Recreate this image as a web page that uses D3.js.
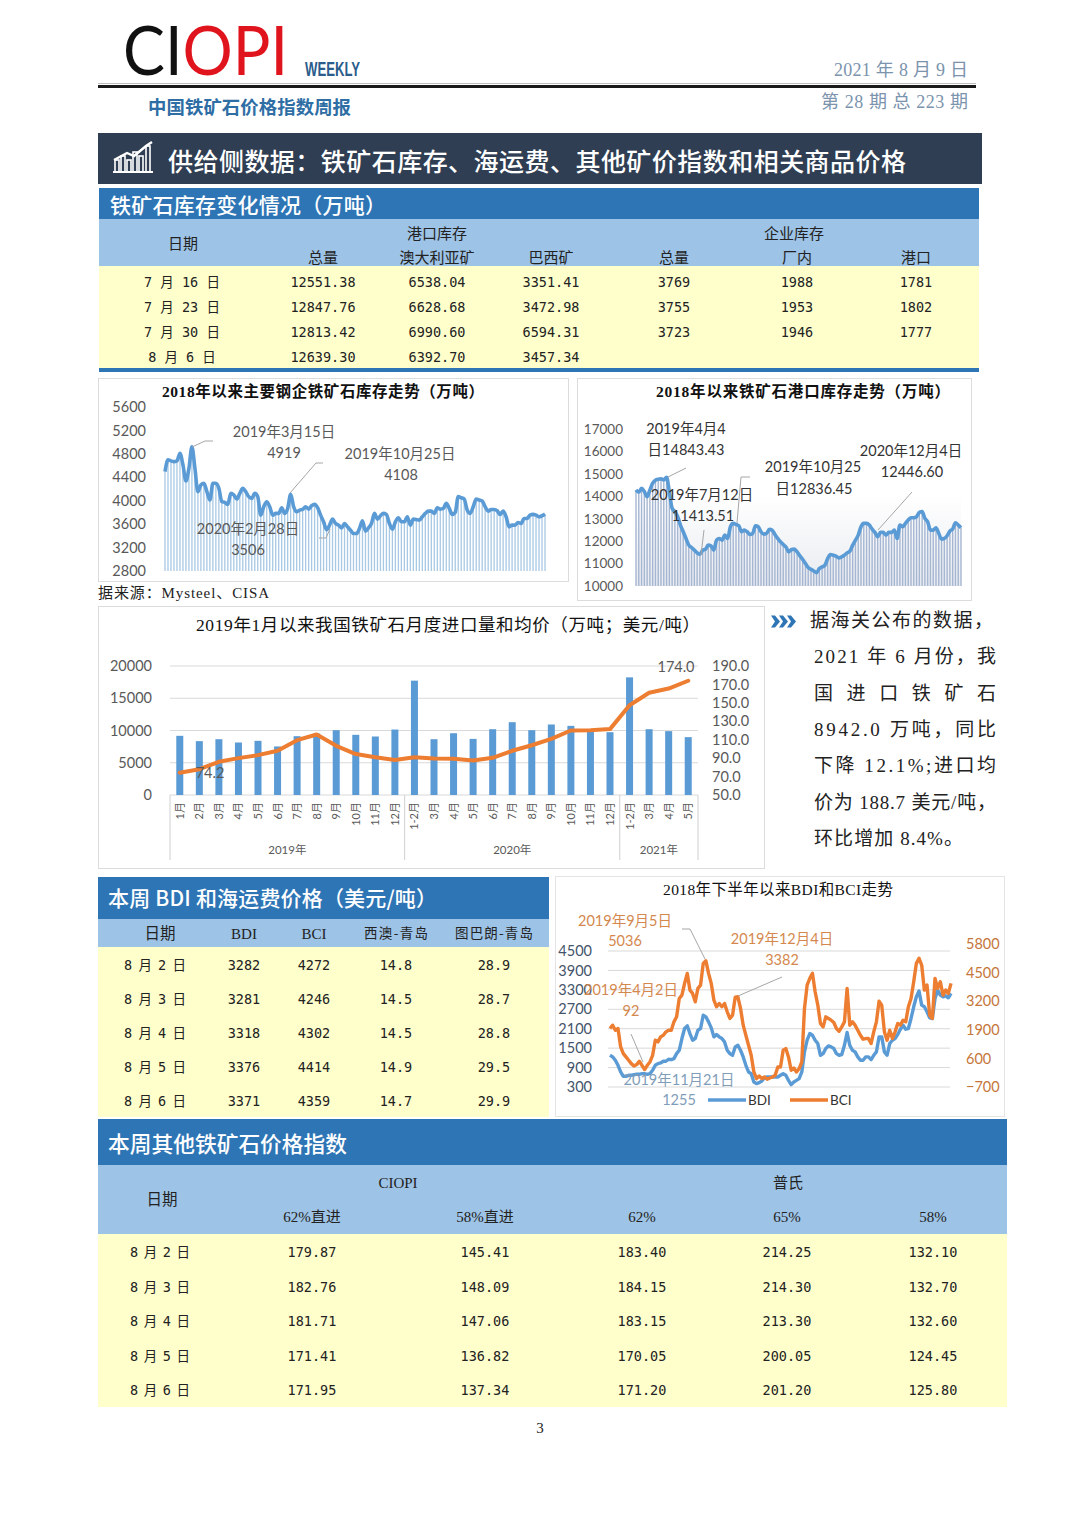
<!DOCTYPE html>
<html><head><meta charset="utf-8">
<style>html,body{margin:0;padding:0;background:#fff}svg{display:block}</style>
<script src="https://cdn.jsdelivr.net/npm/d3@7/dist/d3.min.js"></script>
</head><body><svg id="page" width="1080" height="1526"></svg>
<script>
// ---------- data ----------
const steelStock=[4497,4697,4680,4668,4680,4811,4611,4337,4554,4919,4554,4154,4268,4297,4154,4011,4297,4297,4211,3983,3971,3937,4126,4097,4029,4126,4211,4154,4069,4040,4126,4069,3754,3897,3983,3897,3754,3783,3783,3880,3783,3868,4108,3897,3811,3840,3851,3897,3857,3914,3937,3880,3754,3640,3506,3583,3686,3611,3583,3537,3611,3554,3497,3440,3440,3526,3657,3480,3537,3611,3783,3686,3743,3783,3766,3611,3514,3640,3709,3640,3640,3726,3583,3686,3680,3669,3726,3783,3823,3823,3783,3880,3857,3868,3954,3868,3766,3800,4069,4051,4029,3840,3783,3897,4029,4011,3994,3897,3823,3851,3851,3829,3766,3823,3726,3554,3583,3583,3629,3611,3697,3697,3754,3766,3754,3726,3743,3771];
const portStock=[14285,14180,14360,14210,13986,14285,14584,14718,14763,14778,14733,14843,14210,13464,13314,13090,12717,12419,12120,11821,11717,11598,11478,11413,11598,11642,11821,11792,11598,12045,12120,12045,12269,12120,12643,12792,12747,12687,12419,12493,12419,12299,12344,12687,12643,12419,12314,12344,12523,12493,12299,12120,11971,11851,11732,11523,11627,11642,11523,11344,11179,11000,10821,10746,10672,10597,10776,10851,10926,11224,11403,11374,11329,11254,11299,11374,11478,11553,11821,12045,12269,12643,12792,12792,12717,12538,12389,12195,12389,12389,12269,12389,12389,12493,12120,12717,12643,12792,12941,13045,13045,13090,13285,13314,13016,12867,12493,12493,12598,12344,12090,12120,12239,12449,12538,12822,12717,12598];
const importMonths=["1月","2月","3月","4月","5月","6月","7月","8月","9月","10月","11月","12月","1-2月","3月","4月","5月","6月","7月","8月","9月","10月","11月","12月","1-2月","3月","4月","5月"];
const importYears=["2019年","2020年","2021年"];
const importYearCounts=[12,11,4];
const importVolume=[9175,8350,8650,8140,8400,7525,9120,9530,10050,9330,9070,10150,17730,8650,9580,8700,10200,11290,10050,10930,10720,9800,9740,18240,10200,9900,8970];
const importPrice=[74.2,78,86,90,93.3,98,109.5,115.7,103.4,94.4,91,88,91,89.7,89.3,87.5,90.4,98,104,111,120,120.4,121.5,147.4,161,165.5,174];
const bdiSeries=[1280,1229,1126,971,764,630,630,661,661,682,692,692,713,713,692,713,816,971,1022,1043,1095,1095,1157,1146,1177,1332,1435,1796,2106,2189,1951,1745,1796,2054,2106,2519,2467,2312,2127,1848,1920,1848,1796,1693,1435,1332,1280,1538,1590,1435,1229,971,764,713,455,403,434,486,589,610,610,610,610,610,661,713,661,506,372,455,506,558,764,1384,1745,1951,1900,1745,1642,1280,1332,1487,1569,1538,1487,1332,1280,1301,1590,1982,1590,1435,1384,1229,1126,1126,1229,1229,1146,1280,1384,1848,1848,1384,1280,1642,1745,1796,1920,2085,2209,2085,2106,2416,2777,3086,3262,2828,2777,2622,2436,2416,3035,3293,3138,3086,3117,3055,3190];
const bciSeries=[1958,2110,1882,1958,1123,819,667,515,363,257,318,470,287,92,287,439,743,1427,1351,1579,1654,1806,1882,1882,2262,2490,3325,3477,4009,4465,3705,3553,3173,3781,3933,4920,5036,4465,4009,3249,2946,3098,2946,3098,2718,2414,2566,3382,3401,2870,2110,1654,1199,743,-16,-320,-199,-320,-244,-351,-290,-244,-168,211,211,971,1047,667,60,166,-16,135,439,2870,3933,4237,4465,3629,3022,2186,2034,2490,2414,2338,2232,1958,1837,2034,2262,3781,2110,2262,2110,1882,1654,1472,1503,1503,1275,1806,2262,3204,3022,1806,1427,1882,1503,1806,2186,2110,2338,2262,2946,3325,4085,4920,5148,4844,3705,3933,2566,2414,4237,3781,4085,3477,3705,3553,4009];
const steelTicks=[2800,3200,3600,4000,4400,4800,5200,5600];
const portTicks=[10000,11000,12000,13000,14000,15000,16000,17000];
const volumeTicks=[0,5000,10000,15000,20000];
const priceTicks=[50,70,90,110,130,150,170,190];
const bdiTicks=[300,900,1500,2100,2700,3300,3900,4500];
const bciTicks=[-700,600,1900,3200,4500,5800];
const stockDates=["7 月 16 日","7 月 23 日","7 月 30 日","8 月 6 日"];
const stockRows=[["12551.38","6538.04","3351.41","3769","1988","1781"],["12847.76","6628.68","3472.98","3755","1953","1802"],["12813.42","6990.60","6594.31","3723","1946","1777"],["12639.30","6392.70","3457.34","","",""]];
const freightDates=["8 月 2 日","8 月 3 日","8 月 4 日","8 月 5 日","8 月 6 日"];
const freightRows=[["3282","4272","14.8","28.9"],["3281","4246","14.5","28.7"],["3318","4302","14.5","28.8"],["3376","4414","14.9","29.5"],["3371","4359","14.7","29.9"]];
const indexRows=[["179.87","145.41","183.40","214.25","132.10"],["182.76","148.09","184.15","214.30","132.70"],["181.71","147.06","183.15","213.30","132.60"],["171.41","136.82","170.05","200.05","124.45"],["171.95","137.34","171.20","201.20","125.80"]];
const commentary=["据海关公布的数据\uFF0C","2021 年 6 月份\uFF0C我","国 进 口 铁 矿 石","8942.0 万吨\uFF0C同比","下降 12.1%;进口均","价为 188.7 美元/吨\uFF0C","环比增加 8.4%。"];

// ---------- helpers ----------
const svg=d3.select("#page");
const SANS='"Noto Sans CJK SC","Noto Sans",sans-serif';
const LAT='Lato,"Noto Sans CJK SC",sans-serif';
const SER='"Liberation Serif","Noto Sans CJK SC",serif';
const MONO='"DejaVu Sans Mono","Noto Sans CJK SC",monospace';
const BAND="#2e75b6",HEAD="#9dc3e6",YEL="#ffffcc";
function rect(x,y,w,h,fill,stroke){return svg.append("rect").attr("x",x).attr("y",y).attr("width",w).attr("height",h).attr("fill",fill).attr("stroke",stroke||"none");}
function txt(s,x,y,o={}){const t=svg.append("text").attr("x",x).attr("y",y).attr("text-anchor",o.a||"middle").attr("font-family",o.f||SANS).attr("font-size",o.s||14).attr("font-weight",o.w||400).attr("fill",o.c||"#222").text(s);if(o.tl)t.attr("textLength",o.tl).attr("lengthAdjust",o.la||"spacing");return t;}
function leader(pts){svg.append("path").attr("d",d3.line()(pts)).attr("fill","none").attr("stroke","#a6a6a6").attr("stroke-width",1);}
function styleAxis(g,size,color,family){g.select(".domain").remove();g.selectAll(".tick line").remove();g.selectAll("text").attr("font-size",size).attr("fill",color).attr("font-family",family||LAT);}

// ---------- masthead ----------
const logo=svg.append("text").attr("x",123).attr("y",75).attr("font-family",'Lato,"Open Sans",sans-serif').attr("font-weight",400).attr("font-size",68).attr("textLength",165).attr("lengthAdjust","spacingAndGlyphs");
logo.append("tspan").attr("fill","#111").text("CI");
logo.append("tspan").attr("fill","#e0141c").text("OPI");
txt("WEEKLY",305,76,{a:"start",f:'"Liberation Sans",sans-serif',w:700,s:20,c:"#2b5c8c",tl:55,la:"spacingAndGlyphs"});
txt("2021 年 8 月 9 日",968,76,{a:"end",f:SER,s:18,c:"#7b93ad",tl:134});
rect(98,83,878,1,"#bdbdbd");
rect(98,85,878,3,"#1a1a1a");
txt("中国铁矿石价格指数周报",148,114,{a:"start",w:700,s:18.4,c:"#2f6ea5",tl:203});
txt("第 28 期 总 223 期",968,108,{a:"end",f:SER,s:18,c:"#7b93ad",tl:147});

// ---------- main heading ----------
rect(98,133,884,51,"#2f3e53");
txt("供给侧数据\uFF1A铁矿石库存、海运费、其他矿价指数和相关商品价格",168,171,{a:"start",w:500,s:25,c:"#fff",tl:738});
[[115,160,12],[121,156,16],[127,160,12],[133,152,20],[139,156,16],[146,146,26]].forEach(b=>rect(b[0],b[1],4,b[2],"none","#fff").attr("stroke-width",1.6));
svg.append("path").attr("d",d3.line()([[114,160],[127,153],[134,156],[146,146],[152,142]])).attr("fill","none").attr("stroke","#fff").attr("stroke-width",2.4);
rect(113,171,40,2,"#fff");

// ---------- stock table ----------
rect(99,188,880,31,BAND);
txt("铁矿石库存变化情况\uFF08万吨\uFF09",110,213,{a:"start",s:21,w:500,c:"#fff",tl:276});
rect(99,219,880,47,HEAD);
rect(99,266,880,102,YEL);
rect(99,368,880,4,BAND);
const stockX=[323,437,551,674,797,916];
txt("日期",183,249,{s:15,c:"#222"});
txt("港口库存",437,239,{s:15});txt("企业库存",794,239,{s:15});
["总量","澳大利亚矿","巴西矿","总量","厂内","港口"].forEach((h,i)=>txt(h,stockX[i],263,{s:15}));
stockRows.forEach((r,i)=>{const y=287+i*25;txt(stockDates[i],182,y,{f:MONO,s:13.5});r.forEach((v,j)=>{if(v)txt(v,stockX[j],y,{f:MONO,s:13.5});});});

// ---------- chart 1: steel mill stock ----------
rect(98.5,378.5,470,203,"#fff","#dcdcdc");
txt("2018年以来主要钢企铁矿石库存走势\uFF08万吨\uFF09",323,397,{f:SER,w:700,s:15.5,c:"#111",tl:322});
const y1=d3.scaleLinear().domain([2800,5600]).range([571,407]);
const x1=d3.scalePoint().domain(d3.range(steelStock.length)).range([165,545]);
svg.append("g").selectAll("line").data(steelStock).join("line").attr("x1",(d,i)=>x1(i)).attr("x2",(d,i)=>x1(i)).attr("y1",y1(2800)).attr("y2",d=>y1(d)).attr("stroke","#a8c8e4").attr("stroke-width",1.3);
svg.append("path").datum(steelStock).attr("d",d3.line().x((d,i)=>x1(i)).y(d=>y1(d)).curve(d3.curveMonotoneX)).attr("fill","none").attr("stroke","#5b9bd5").attr("stroke-width",3.6).attr("stroke-linejoin","round");
styleAxis(svg.append("g").attr("transform","translate(149,0)").call(d3.axisLeft(y1).tickValues(steelTicks).tickFormat(d3.format("d")).tickSize(0)),14.5,"#595959");
leader([[192,447],[205,441],[213,441]]);leader([[290,493],[316,463],[323,463]]);leader([[330,529],[326,538],[319,538]]);
const an={f:LAT,s:14.5,c:"#595959"};
txt("2019年3月15日",284,437,an);txt("4919",284,458,an);
txt("2019年10月25日",400,459,an);txt("4108",401,480,an);
txt("2020年2月28日",248,534,an);txt("3506",248,555,an);
txt("据来源\uFF1AMysteel、CISA",98,598,{a:"start",f:SER,s:15,c:"#222",tl:171});

// ---------- chart 2: port stock ----------
rect(577.5,378.5,394,222,"#fff","#dcdcdc");
txt("2018年以来铁矿石港口库存走势\uFF08万吨\uFF09",803,397,{f:SER,w:700,s:15.5,c:"#111",tl:294});
const y2=d3.scaleLinear().domain([10000,17000]).range([586,429]);
const x2=d3.scalePoint().domain(d3.range(portStock.length)).range([636,961]);
const fade=svg.append("defs").append("linearGradient").attr("id","fade").attr("x1",0).attr("y1",0).attr("x2",0).attr("y2",1);
fade.append("stop").attr("offset",0).attr("stop-color","#fff");fade.append("stop").attr("offset",1).attr("stop-color","#e8ebf0");
rect(636,495,325,91,"url(#fade)");
svg.append("g").selectAll("line").data(portStock).join("line").attr("x1",(d,i)=>x2(i)).attr("x2",(d,i)=>x2(i)).attr("y1",y2(10000)).attr("y2",d=>y2(d)).attr("stroke","#a5b6d2").attr("stroke-width",1.4);
svg.append("path").datum(portStock).attr("d",d3.line().x((d,i)=>x2(i)).y(d=>y2(d)).curve(d3.curveMonotoneX)).attr("fill","none").attr("stroke","#5b9bd5").attr("stroke-width",3.6).attr("stroke-linejoin","round");
styleAxis(svg.append("g").attr("transform","translate(626,0)").call(d3.axisLeft(y2).tickValues(portTicks).tickFormat(d3.format("d")).tickSize(0)),13.5,"#595959");
leader([[668,477],[686,468]]);leader([[701,555],[704,530]]);leader([[737,523],[741,477],[750,477]]);leader([[878,530],[912,492]]);
const an2={f:LAT,s:14.5,c:"#333"};
txt("2019年4月4",686,434,an2);txt("日14843.43",686,455,an2);
txt("2019年7月12日",702,500,an2);txt("11413.51",703,521,an2);
txt("2019年10月25",813,472,an2);txt("日12836.45",814,494,an2);
txt("2020年12月4日",911,456,an2);txt("12446.60",912,477,an2);

// ---------- chart 3: imports ----------
rect(98.5,606.5,666,262,"#fff","#dcdcdc");
txt("2019年1月以来我国铁矿石月度进口量和均价\uFF08万吨\uFF1B美元/吨\uFF09",448,631,{f:SER,s:17.5,c:"#111",tl:504});
const y3=d3.scaleLinear().domain([0,20000]).range([795,666]);
const y3r=d3.scaleLinear().domain([50,190]).range([795,666]);
const x3=d3.scaleBand().domain(d3.range(importMonths.length)).range([170,698]);
svg.append("g").selectAll("line").data(volumeTicks).join("line").attr("x1",170).attr("x2",698).attr("y1",d=>y3(d)).attr("y2",d=>y3(d)).attr("stroke","#d9d9d9");
svg.append("g").selectAll("rect").data(importVolume).join("rect").attr("x",(d,i)=>x3(i)+x3.bandwidth()/2-3.5).attr("width",7).attr("y",d=>y3(d)).attr("height",d=>y3(0)-y3(d)).attr("fill","#5b9bd5");
svg.append("path").datum(importPrice).attr("d",d3.line().x((d,i)=>x3(i)+x3.bandwidth()/2).y(d=>y3r(d))).attr("fill","none").attr("stroke","#ed7d31").attr("stroke-width",4).attr("stroke-linejoin","round").attr("stroke-linecap","round");
styleAxis(svg.append("g").attr("transform","translate(155,0)").call(d3.axisLeft(y3).tickValues(volumeTicks).tickFormat(d3.format("d")).tickSize(0)),14.5,"#595959");
styleAxis(svg.append("g").attr("transform","translate(709,0)").call(d3.axisRight(y3r).tickValues(priceTicks).tickFormat(d3.format(".1f")).tickSize(0)),14.5,"#595959");
importMonths.forEach((m,i)=>{const cx=x3(i)+x3.bandwidth()/2;svg.append("text").attr("transform",`translate(${cx+4},802) rotate(-90)`).attr("text-anchor","end").attr("font-family",LAT).attr("font-size",11).attr("fill","#595959").text(m);});
let cum=0;[0].concat(importYearCounts).forEach(n=>{cum+=n;const px=cum===importMonths.length?x3.range()[1]:x3.range()[0]+x3.step()*cum;svg.append("line").attr("x1",px).attr("x2",px).attr("y1",795).attr("y2",860).attr("stroke","#d0d0d0");});
cum=0;importYears.forEach((y,i)=>{const mid=x3.range()[0]+x3.step()*(cum+importYearCounts[i]/2);cum+=importYearCounts[i];txt(y,mid,854,{f:LAT,s:11.5,c:"#595959"});});
txt("74.2",210,778,{f:LAT,s:14.5,c:"#595959"});
txt("174.0",676,672,{f:LAT,s:14.5,c:"#595959"});

// ---------- commentary ----------
[771,779,787].forEach(x=>svg.append("path").attr("d",d3.line()([[x,615.5],[x+4,615.5],[x+9,621.5],[x+4,627.5],[x,627.5],[x+4,621.5]])+"Z").attr("fill",BAND));
commentary.forEach((l,i)=>{const x=i===0?810:814,w=i===0?183:(i===6?149:182);txt(l,x,627+i*36.3,{a:"start",f:SER,s:19,c:"#222",tl:w});});

// ---------- freight table ----------
rect(98,877,451,42,BAND);
txt("本周 BDI 和海运费价格\uFF08美元/吨\uFF09",108,906,{a:"start",s:21,w:500,c:"#fff",tl:329});
rect(98,919,451,28,HEAD);
rect(98,947,451,170,YEL);
const frX=[244,314,396,494];
txt("日期",160,939,{s:15.5});
txt("BDI",frX[0],939,{f:SER,s:15});txt("BCI",frX[1],939,{f:SER,s:15});
txt("西澳-青岛",frX[2],938,{s:13.5,tl:64});txt("图巴朗-青岛",frX[3],938,{s:13.5,tl:78});
freightRows.forEach((r,i)=>{const y=970+i*34;txt(freightDates[i],155,y,{f:MONO,s:13.5,tl:62});r.forEach((v,j)=>txt(v,frX[j],y,{f:MONO,s:13.5}));});

// ---------- chart 4: BDI / BCI ----------
rect(555.5,876.5,449,240,"#fff","#e4e4e4");
txt("2018年下半年以来BDI和BCI走势",778,895,{f:SER,s:15.5,c:"#111",tl:230});
const y4=d3.scaleLinear().domain([300,4500]).range([1087,951]);
const y4r=d3.scaleLinear().domain([-700,5800]).range([1087,944]);
const x4=d3.scalePoint().domain(d3.range(bdiSeries.length)).range([610,951]);
svg.append("g").selectAll("line").data(bdiTicks).join("line").attr("x1",608).attr("x2",950).attr("y1",d=>y4(d)).attr("y2",d=>y4(d)).attr("stroke","#d9d9d9");
const lineB=(s,yy)=>d3.line().x((d,i)=>x4(i)).y(d=>yy(d))(s);
svg.append("path").attr("d",lineB(bdiSeries,y4)).attr("fill","none").attr("stroke","#5b9bd5").attr("stroke-width",3.4).attr("stroke-linejoin","round");
svg.append("path").attr("d",lineB(bciSeries,y4r)).attr("fill","none").attr("stroke","#ed7d31").attr("stroke-width",3.4).attr("stroke-linejoin","round");
styleAxis(svg.append("g").attr("transform","translate(595,0)").call(d3.axisLeft(y4).tickValues(bdiTicks).tickFormat(d3.format("d")).tickSize(0)),14.5,"#44546a");
styleAxis(svg.append("g").attr("transform","translate(963,0)").call(d3.axisRight(y4r).tickValues(bciTicks).tickFormat(d3.format("d")).tickSize(0)),14.5,"#c5763a");
leader([[682,929],[690,929],[705,959]]);leader([[738,996],[782,977]]);leader([[631,1034],[643,1062]]);
const an4={f:LAT,s:14.5,c:"#d4884e"};
txt("2019年9月5日",625,926,an4);txt("5036",625,946,an4);
txt("2019年12月4日",782,944,an4);txt("3382",782,965,an4);
txt("2019年4月2日",631,995,an4);txt("92",631,1016,an4);
const an4b={f:LAT,s:14.5,c:"#7f9db9"};
txt("2019年11月21日",679,1085,an4b);txt("1255",679,1105,an4b);
svg.append("line").attr("x1",708).attr("x2",746).attr("y1",1100).attr("y2",1100).attr("stroke","#5b9bd5").attr("stroke-width",3.4);
txt("BDI",748,1105,{a:"start",f:LAT,s:13.5,c:"#333"});
svg.append("line").attr("x1",790).attr("x2",828).attr("y1",1100).attr("y2",1100).attr("stroke","#ed7d31").attr("stroke-width",3.4);
txt("BCI",830,1105,{a:"start",f:LAT,s:13.5,c:"#333"});

// ---------- index table ----------
rect(98,1119,909,46,BAND);
txt("本周其他铁矿石价格指数",108,1152,{a:"start",s:21.7,w:500,c:"#fff",tl:239});
rect(98,1165,909,69,HEAD);
rect(98,1234,909,173,YEL);
const idxX=[312,485,642,787,933];
txt("CIOPI",398,1188,{f:SER,s:15});txt("普氏",788,1188,{s:15});
txt("日期",162,1205,{s:15.5});
["62%直进","58%直进","62%","65%","58%"].forEach((h,i)=>txt(h,idxX[i],1222,{f:SER,s:15}));
indexRows.forEach((r,i)=>{const y=1257+i*34.5;txt(freightDates[i],160,y,{f:MONO,s:13.5,tl:60});r.forEach((v,j)=>txt(v,idxX[j],y,{f:MONO,s:13.5}));});
txt("3",540,1433,{f:SER,s:15,c:"#222"});
</script></body></html>
